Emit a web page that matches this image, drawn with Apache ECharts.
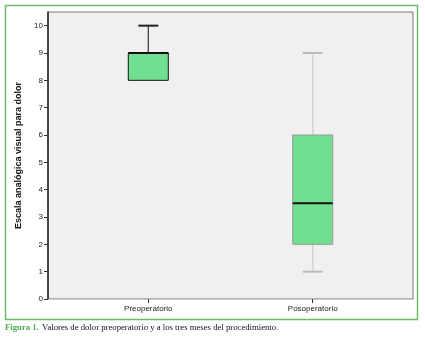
<!DOCTYPE html>
<html><head><meta charset="utf-8">
<script src="https://cdn.jsdelivr.net/npm/echarts@6/dist/echarts.min.js"></script>
<style>html,body{margin:0;padding:0;background:#fff}#c{width:425px;height:340px}</style>
</head><body><div id="c"></div>
<script>
const categories = ['Preoperatorio', 'Posoperatorio'];
// [position, min, Q1, median, Q3, max]
const preopBox = [[0, 8, 8, 9, 9, 10]];
const posopBox = [[1, 1, 2, 3.5, 6, 9]];
const yTicks = [0, 1, 2, 3, 4, 5, 6, 7, 8, 9, 10];
const xTicks = [0, 1];

function makeRender(st) {
  return function (params, api) {
    const x = api.value(0);
    const vmin = api.value(1), q1 = api.value(2), med = api.value(3), q3 = api.value(4), vmax = api.value(5);
    const pMin = api.coord([x, vmin]), pQ1 = api.coord([x, q1]), pMed = api.coord([x, med]);
    const pQ3 = api.coord([x, q3]), pMax = api.coord([x, vmax]);
    const cx = pMin[0];
    const bw = 40, cw = 20;
    const ch = [];
    if (vmax > q3) {
      ch.push({type: 'line', shape: {x1: cx, y1: pQ3[1], x2: cx, y2: pMax[1]}, style: {stroke: st.whisker, lineWidth: st.whiskerW}});
      ch.push({type: 'line', shape: {x1: cx - cw / 2, y1: pMax[1], x2: cx + cw / 2, y2: pMax[1]}, style: {stroke: st.cap, lineWidth: 2}});
    }
    if (vmin < q1) {
      ch.push({type: 'line', shape: {x1: cx, y1: pQ1[1], x2: cx, y2: pMin[1]}, style: {stroke: st.whisker, lineWidth: st.whiskerW}});
      ch.push({type: 'line', shape: {x1: cx - cw / 2, y1: pMin[1], x2: cx + cw / 2, y2: pMin[1]}, style: {stroke: st.cap, lineWidth: 2}});
    }
    ch.push({type: 'rect', shape: {x: cx - bw / 2, y: pQ3[1], width: bw, height: pQ1[1] - pQ3[1]}, style: {fill: '#70df8f', stroke: st.border, lineWidth: 1}});
    ch.push({type: 'line', shape: {x1: cx - bw / 2, y1: pMed[1], x2: cx + bw / 2, y2: pMed[1]}, style: {stroke: '#111', lineWidth: 2}});
    return {type: 'group', children: ch};
  };
}

const chart = echarts.init(document.getElementById('c'));
chart.setOption({
  animation: false,
  backgroundColor: '#fff',
  textStyle: {fontFamily: 'Liberation Sans'},
  graphic: [
    {type: 'rect', shape: {x: 5.5, y: 5.5, width: 412, height: 314}, style: {fill: 'none', stroke: '#6cbf6a', lineWidth: 1.5}, z: -1},
    {type: 'text', left: 5, top: 322, style: {
      rich: {
        g: {fill: '#4caf50', fontFamily: 'Liberation Serif', fontWeight: 'bold', fontSize: 8.7},
        t: {fill: '#111', fontFamily: 'Liberation Serif', fontSize: 8.7}
      },
      text: '{g|Figura 1.} {t|Valores de dolor preoperatorio y a los tres meses del procedimiento.}'
    }}
  ],
  grid: {left: 48, top: 12, right: 12, bottom: 41, show: true, backgroundColor: '#f0f0f0', borderColor: '#777', borderWidth: 1},
  xAxis: {
    type: 'value', min: -0.61, max: 1.61,
    splitLine: {show: false},
    axisLine: {show: true, onZero: false, lineStyle: {color: '#ccc', width: 1}},
    axisTick: {show: true, customValues: xTicks, length: 4, lineStyle: {color: '#333'}},
    axisLabel: {customValues: xTicks, formatter: v => categories[Math.round(v)] || '', fontSize: 8, color: '#222', margin: 6}
  },
  yAxis: {
    type: 'value', min: 0, max: 10.5,
    name: 'Escala analógica visual para dolor', nameLocation: 'middle', nameGap: 25,
    nameTextStyle: {fontWeight: 'bold', fontSize: 9, color: '#111'},
    splitLine: {show: false},
    axisLine: {show: true, onZero: false, lineStyle: {color: '#222', width: 1.5}},
    axisTick: {show: true, customValues: yTicks, length: 4, lineStyle: {color: '#333'}},
    axisLabel: {customValues: yTicks, fontSize: 8, color: '#222', margin: 5}
  },
  series: [
    {type: 'custom', data: preopBox, renderItem: makeRender({whisker: '#333', whiskerW: 1.2, cap: '#222', border: '#111'}), encode: {x: 0, y: [1, 2, 3, 4, 5]}},
    {type: 'custom', data: posopBox, renderItem: makeRender({whisker: '#d4d4d4', whiskerW: 1.5, cap: '#bbb', border: '#999'}), encode: {x: 0, y: [1, 2, 3, 4, 5]}}
  ]
});
</script></body></html>
